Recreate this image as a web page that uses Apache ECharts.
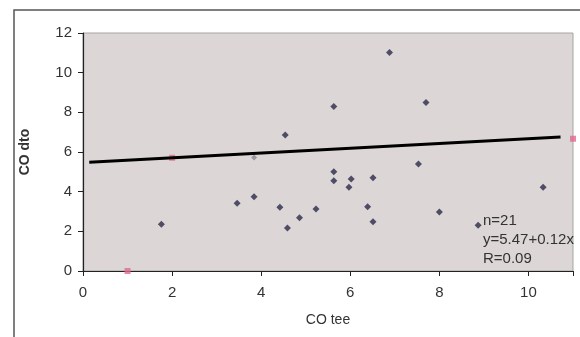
<!DOCTYPE html>
<html>
<head>
<meta charset="utf-8">
<script src="https://cdn.jsdelivr.net/npm/echarts@6/dist/echarts.min.js"></script>
<style>
  html, body { margin: 0; padding: 0; background: #ffffff; }
  #chart { width: 580px; height: 337px; }
</style>
</head>
<body>
<div id="chart"></div>
<script>
// CO measured by two methods: thermodilution (dto) against tee
const coTee = [1.76, 3.46, 3.84, 4.42, 4.59, 4.54, 4.86, 5.23, 5.63, 5.63, 5.63, 6.02, 5.97, 6.51, 6.39, 6.51, 6.88, 7.70, 7.53, 8.00, 10.33, 8.87];
const coDto = [2.36, 3.41, 3.74, 3.22, 2.17, 6.86, 2.68, 3.12, 8.29, 5.00, 4.55, 4.64, 4.22, 4.70, 3.24, 2.48, 11.02, 8.49, 5.39, 2.98, 4.22, 2.31];
// point that sits beneath the fit line
const hiddenX = [3.84];
const hiddenY = [5.72];
// regression fit y = a + b x, drawn over this x span
const fitIntercept = 5.47;
const fitSlope = 0.12;
const fitSpan = [0.14, 10.72];
// secondary markers
const markX = [1, 2, 11];
const markY = [0, 5.71, 6.67];
// axis ticks
const xTicks = [0, 2, 4, 6, 8, 10];
const yTicks = [0, 2, 4, 6, 8, 10, 12];
const statLines = ['n=21', 'y=5.47+0.12x', 'R=0.09'];

const points = coTee.map((x, i) => [x, coDto[i]]);
const hidden = hiddenX.map((x, i) => [x, hiddenY[i]]);
const fit = fitSpan.map(x => [x, fitIntercept + fitSlope * x]);
const marks = markX.map((x, i) => [x, markY[i]]);

const chart = echarts.init(document.getElementById('chart'), null, { renderer: 'canvas' });
const font = 'Liberation Sans, Arial, sans-serif';

chart.setOption({
  animation: false,
  backgroundColor: '#ffffff',
  textStyle: { fontFamily: font },
  grid: {
    left: 83, top: 33, right: 7, bottom: 66,
    show: true, backgroundColor: '#dcd6d6', borderColor: '#a8a4a4', borderWidth: 1
  },
  xAxis: {
    type: 'value', min: 0, max: 11, interval: 2,
    name: 'CO tee', nameLocation: 'middle', nameGap: 42,
    nameTextStyle: { color: '#333', fontSize: 14, fontFamily: font },
    axisLine: { show: true, lineStyle: { color: '#222', width: 1.2 } },
    axisTick: { show: true, inside: false, length: 5, lineStyle: { color: '#222' } },
    axisLabel: {
      color: '#333', fontSize: 15, margin: 14, fontFamily: font,
      formatter: v => xTicks.includes(v) ? String(v) : ''
    },
    splitLine: { show: false }
  },
  yAxis: {
    type: 'value', min: 0, max: 12, interval: 2,
    name: 'CO dto', nameLocation: 'middle', nameGap: 51, nameRotate: 90,
    nameTextStyle: { color: '#333', fontSize: 14, fontWeight: 'bold', fontFamily: font },
    axisLine: { show: true, lineStyle: { color: '#222', width: 1.2 } },
    axisTick: { show: true, inside: false, length: 5, lineStyle: { color: '#222' } },
    axisLabel: {
      color: '#333', fontSize: 15, margin: 11, fontFamily: font,
      formatter: v => yTicks.includes(v) ? String(v) : ''
    },
    splitLine: { show: false }
  },
  graphic: [
    {
      type: 'rect', silent: true, z: -1,
      shape: { x: 14, y: 10, width: 600, height: 400 },
      style: { fill: 'none', stroke: '#555555', lineWidth: 1.5 }
    },
    {
      type: 'text', left: 483, top: 211, z: 10,
      style: {
        text: statLines.join('\n'), fill: '#333', fontSize: 15,
        lineHeight: 19, fontFamily: font
      }
    }
  ],
  series: [
    {
      type: 'scatter', data: hidden, symbol: 'diamond', symbolSize: 6, z: 1,
      itemStyle: { color: '#8a8890' }
    },
    {
      type: 'scatter', data: marks, symbol: 'rect', symbolSize: 6, z: 1, clip: false,
      itemStyle: { color: '#e06a8e' }
    },
    {
      type: 'line', data: fit, showSymbol: false, z: 3,
      lineStyle: { color: '#000000', width: 3 }
    },
    {
      type: 'scatter', data: points, symbol: 'diamond', symbolSize: 7, z: 4,
      itemStyle: { color: '#2c2a48' }
    }
  ]
});
</script>
</body>
</html>
